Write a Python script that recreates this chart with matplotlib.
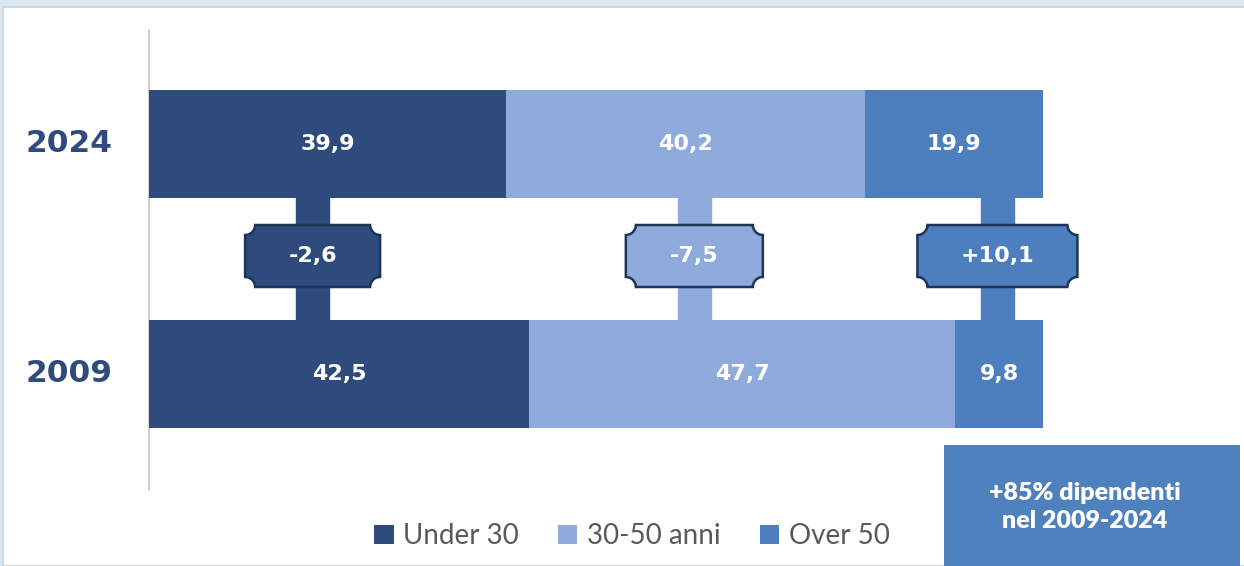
import numpy as np
import matplotlib
matplotlib.use("Agg")
import matplotlib.pyplot as plt
from matplotlib.patches import Rectangle, PathPatch, Patch
from matplotlib.path import Path

# --- data ---
years = ["2009", "2024"]
groups = ["Under 30", "30-50 anni", "Over 50"]
share_2009 = [42.5, 47.7, 9.8]
share_2024 = [39.9, 40.2, 19.9]
deltas = ["-2,6", "-7,5", "+10,1"]
note_text = "+85% dipendenti\nnel 2009-2024"

colors = ["#2F4A7C", "#8FAADC", "#4D7EBD"]
navy = "#2F4A7C"
FONT = ["Lato", "DejaVu Sans"]
NUMFONT = ["DejaVu Sans"]
plt.rcParams["font.family"] = FONT

W, H = 1244, 566
fig = plt.figure(figsize=(W / 100, H / 100), dpi=100, facecolor="#DCE6F2")
# white panel
fig.patches.append(Rectangle((3 / W, 0), 1, 1 - 7 / H, transform=fig.transFigure,
                             facecolor="white", edgecolor="#D0D0D0", lw=1.2, zorder=-10))

ax = fig.add_axes([0, 0, 1, 1])
ax.set_zorder(1)
ax.set_facecolor("none")
px = 8.94  # pixels per percent
py = 230.0  # pixels per category step
ax.set_xlim(-149 / px, (W - 149) / px)
ax.set_ylim(-192 / py, (H - 192) / py)
ax.axis("off")

bar_h = 108 / py
rows = [share_2009, share_2024]
for yi, vals in enumerate(rows):
    left = 0
    for gi, v in enumerate(vals):
        ax.barh(yi, v, left=left, height=bar_h, color=colors[gi], zorder=3)
        ax.text(left + v / 2, yi, f"{v:.1f}".replace(".", ","), ha="center", va="center",
                color="white", fontsize=16, fontweight="bold", family=NUMFONT, zorder=4)
        left += v
    ax.text(-124 / px, yi, years[yi], ha="left", va="center", color=navy,
            fontsize=22.5, fontweight="bold", family=NUMFONT)

# vertical axis line
ax.plot([0, 0], [(374 - 490) / py, (374 - 30) / py], color="#C8C8C8", lw=1.2, zorder=2)

# connectors with plaque-shaped labels
stem_x = [18.3, 61.0, 94.9]
box_w = [135 / px, 137 / px, 160 / px]
box_h = 62 / py
box_y = (374 - 256) / py
stem_w = 33 / px


def plaque(cx, cy, w, h, r=10):
    # rectangle with concave quarter-circle notches at the corners
    rx, ry = r / px, r / py
    x0, x1 = cx - w / 2, cx + w / 2
    y0, y1 = cy - h / 2, cy + h / 2
    t = np.linspace(0, np.pi / 2, 12)
    pts = list(zip(x0 + rx * np.cos(t), y0 + ry * np.sin(t)))
    pts += list(zip(x0 + rx * np.sin(t), y1 - ry * np.cos(t)))
    pts += list(zip(x1 - rx * np.cos(t), y1 - ry * np.sin(t)))
    pts += list(zip(x1 - rx * np.sin(t), y0 + ry * np.cos(t)))
    pts.append(pts[0])
    return Path(pts, closed=True)


for i, sx in enumerate(stem_x):
    ax.add_patch(Rectangle((sx - stem_w / 2, bar_h / 2), stem_w, 1 - bar_h, color=colors[i], zorder=2))
    ax.add_patch(PathPatch(plaque(sx, box_y, box_w[i], box_h), facecolor=colors[i],
                           edgecolor="#1F3458", lw=1.8, zorder=5))
    ax.text(sx, box_y, deltas[i], ha="center", va="center", color="white",
            fontsize=16, fontweight="bold", family=NUMFONT, zorder=6)

# note box
fig.patches.append(Rectangle((944 / W, 0), (1240 - 944) / W, (H - 445) / H,
                             transform=fig.transFigure, facecolor="#4F81BD", zorder=5))
fig.text(1085 / W, 1 - 507 / H, note_text, ha="center", va="center", color="white",
         fontsize=18, fontweight="heavy", linespacing=1.3, zorder=6)

# legend
handles = [Patch(facecolor=c, label=g) for c, g in zip(colors, groups)]
fig.legend(handles=handles, loc="center", bbox_to_anchor=(632 / W, 1 - 536 / H), ncol=3,
           frameon=False, fontsize=20, labelcolor="#595959", handlelength=0.7,
           handleheight=0.7, handletextpad=0.35, columnspacing=1.4)

fig.savefig("out.png", dpi=100, facecolor=fig.get_facecolor())
